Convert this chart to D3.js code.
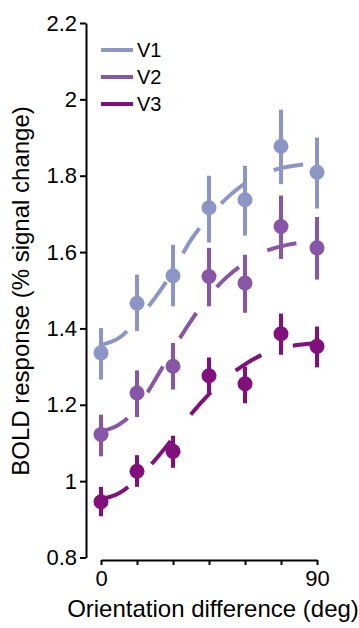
<!DOCTYPE html>
<html>
<head>
<meta charset="utf-8">
<script src="https://cdn.jsdelivr.net/npm/d3@7"></script>
<style>
    body { margin: 0; background: #fff; }
    svg { display: block; }
    text { font-family: "Liberation Sans", Arial, sans-serif; fill: #000; }
</style>
</head>
<body>
<div id="chart"></div>
<script>
// orientation differences where the points were measured (deg)
const orientations = [0, 15, 30, 45, 60, 75, 90];

// mean BOLD response per area
const v1Mean = [1.336, 1.466, 1.538, 1.716, 1.737, 1.877, 1.809];
const v2Mean = [1.122, 1.231, 1.301, 1.536, 1.519, 1.667, 1.611];
const v3Mean = [0.946, 1.026, 1.078, 1.276, 1.255, 1.386, 1.353];

// error bar ends
const v1Low = [1.266, 1.393, 1.458, 1.625, 1.643, 1.778, 1.714];
const v1High = [1.401, 1.541, 1.619, 1.800, 1.826, 1.973, 1.900];
const v2Low = [1.065, 1.168, 1.240, 1.458, 1.441, 1.582, 1.528];
const v2High = [1.174, 1.290, 1.362, 1.611, 1.593, 1.748, 1.692];
const v3Low = [0.908, 0.985, 1.035, 1.231, 1.204, 1.331, 1.298];
const v3High = [0.985, 1.068, 1.119, 1.324, 1.300, 1.439, 1.405];

// fitted curves
const fitOrientations = [0, 7.5, 15, 22.5, 30, 37.5, 45, 52.5, 60, 67.5, 75, 82.5, 90];
const v1Fit = [1.357, 1.375, 1.422, 1.480, 1.550, 1.632, 1.692, 1.742, 1.780, 1.805, 1.820, 1.828, 1.833];
const v2Fit = [1.130, 1.148, 1.190, 1.265, 1.345, 1.420, 1.485, 1.535, 1.572, 1.600, 1.615, 1.624, 1.628];
const v3Fit = [0.953, 0.968, 1.005, 1.055, 1.113, 1.175, 1.228, 1.272, 1.306, 1.332, 1.348, 1.357, 1.362];

const areaNames = ['V1', 'V2', 'V3'];
const areaColors = ['#8c96c6', '#8856a7', '#810f7c'];

const yTicks = [0.8, 1, 1.2, 1.4, 1.6, 1.8, 2, 2.2];
const xTicks = [0, 15, 30, 45, 60, 75, 90];
const xTickLabels = { 0: '0', 90: '90' };

const width = 359, height = 628;

const series = areaNames.map((name, i) => ({
    name: name,
    color: areaColors[i],
    mean: [v1Mean, v2Mean, v3Mean][i],
    low: [v1Low, v2Low, v3Low][i],
    high: [v1High, v2High, v3High][i],
    fit: [v1Fit, v2Fit, v3Fit][i]
}));

const svg = d3.select('#chart')
    .append('svg')
    .attr('width', width)
    .attr('height', height);

const x = d3.scaleLinear().domain([0, 90]).range([101, 317]);
const y = d3.scaleLinear().domain([0.8, 2.2]).range([557.5, 23]);

// y axis, pulled a little left of the data
const yAxis = svg.append('g')
    .attr('transform', 'translate(86,0)')
    .call(d3.axisLeft(y).tickValues(yTicks).tickSize(6).tickSizeOuter(0)
        .tickFormat(d3.format('~g')));

// x axis, only the ends labelled
const xAxis = svg.append('g')
    .attr('transform', 'translate(0,560)')
    .call(d3.axisBottom(x).tickValues(xTicks).tickSize(5).tickSizeOuter(0)
        .tickFormat(d => xTickLabels[d] || ''));

[yAxis, xAxis].forEach(ax => {
    ax.select('.domain').attr('stroke', '#000').attr('stroke-width', 2);
    ax.selectAll('.tick line').attr('stroke', '#000').attr('stroke-width', 2);
    ax.selectAll('.tick text')
        .attr('font-size', 22)
        .attr('font-family', '"Liberation Sans", Arial, sans-serif')
        .attr('fill', '#000');
});
yAxis.selectAll('.tick text').attr('x', -9);
xAxis.selectAll('.tick text').attr('y', 10);

// axis titles
svg.append('text')
    .attr('x', 213)
    .attr('y', 617)
    .attr('text-anchor', 'middle')
    .attr('font-size', 24)
    .text('Orientation difference (deg)');

svg.append('text')
    .attr('transform', 'translate(29,291) rotate(-90)')
    .attr('text-anchor', 'middle')
    .attr('font-size', 24)
    .text('BOLD response (% signal change)');

// dashed fits
const fitLine = d3.line()
    .x(d => x(d[0]))
    .y(d => y(d[1]))
    .curve(d3.curveMonotoneX);

svg.selectAll('.fit')
    .data(series)
    .enter()
    .append('path')
    .attr('class', 'fit')
    .attr('fill', 'none')
    .attr('stroke', d => d.color)
    .attr('stroke-width', 4)
    .attr('stroke-dasharray', '30,33')
    .attr('d', d => fitLine(fitOrientations.map((o, j) => [o, d.fit[j]])));

// error bars and points
series.forEach(s => {
    const g = svg.append('g').attr('class', 'points');
    const pts = orientations.map((o, j) => ({ o: o, m: s.mean[j], lo: s.low[j], hi: s.high[j] }));

    g.selectAll('line')
        .data(pts)
        .enter()
        .append('line')
        .attr('x1', d => x(d.o))
        .attr('x2', d => x(d.o))
        .attr('y1', d => y(d.lo))
        .attr('y2', d => y(d.hi))
        .attr('stroke', s.color)
        .attr('stroke-width', 4);

    g.selectAll('circle')
        .data(pts)
        .enter()
        .append('circle')
        .attr('cx', d => x(d.o))
        .attr('cy', d => y(d.m))
        .attr('r', 7.5)
        .attr('fill', s.color);
});

// legend
const legend = svg.append('g').attr('class', 'legend');
series.forEach((s, i) => {
    const ly = 50 + i * 27;
    legend.append('line')
        .attr('x1', 101).attr('x2', 133)
        .attr('y1', ly).attr('y2', ly)
        .attr('stroke', s.color)
        .attr('stroke-width', 4);
    legend.append('text')
        .attr('x', 137)
        .attr('y', ly + 7)
        .attr('font-size', 20)
        .text(s.name);
});
</script>
</body>
</html>
